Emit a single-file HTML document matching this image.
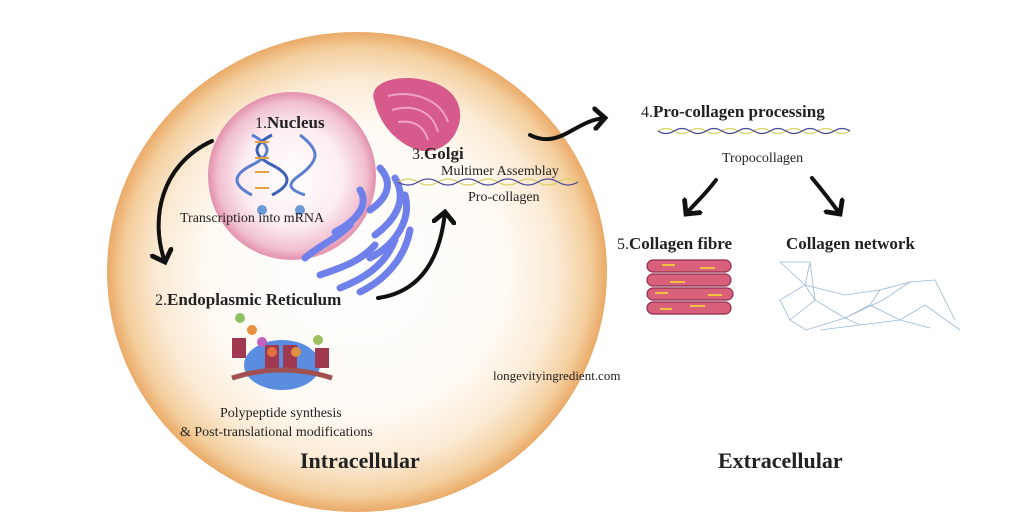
<!DOCTYPE html>
<html><head><meta charset="utf-8"><style>
body{margin:0;background:#fff;width:1024px;height:520px;overflow:hidden}
svg text{font-family:"Liberation Serif",serif;fill:#222}
</style></head><body>
<svg width="1024" height="520" viewBox="0 0 1024 520" xmlns="http://www.w3.org/2000/svg">
<defs>
<radialGradient id="cell" cx="0.5" cy="0.5" r="0.5">
<stop offset="0" stop-color="#fff"/>
<stop offset="0.6" stop-color="#fefaf4"/>
<stop offset="0.8" stop-color="#fbead4"/>
<stop offset="0.93" stop-color="#f4cf9e"/>
<stop offset="1" stop-color="#eaaa68"/>
</radialGradient>
<radialGradient id="nuc" cx="0.5" cy="0.5" r="0.5">
<stop offset="0" stop-color="#fff"/>
<stop offset="0.6" stop-color="#fcedf2"/>
<stop offset="0.88" stop-color="#f1bfcf"/>
<stop offset="1" stop-color="#e290ad"/>
</radialGradient>
<marker id="ah" markerWidth="6" markerHeight="6" refX="3" refY="3" orient="auto" markerUnits="strokeWidth">
<path d="M0,0 L3,3 L0,6" fill="none" stroke="#111" stroke-width="1.2"/>
</marker>
</defs>
<ellipse cx="357" cy="272" rx="250" ry="240" fill="url(#cell)"/>
<circle cx="292" cy="176" r="84" fill="url(#nuc)"/>
<g stroke-width="3" fill="none">
<path d="M252,135 C272,145 272,155 252,165 C232,175 232,185 252,195" stroke="#5b7fd0"/>
<path d="M272,135 C252,145 252,155 272,165 C292,175 292,185 272,195" stroke="#3c5fb8"/>
<path d="M300,135 C320,150 320,160 300,175 C285,185 290,190 305,195" stroke="#5b7fd0"/>
</g>
<g stroke="#e7a040" stroke-width="2"><line x1="255" y1="142" x2="269" y2="142"/><line x1="255" y1="158" x2="269" y2="158"/><line x1="255" y1="172" x2="269" y2="172"/><line x1="255" y1="188" x2="269" y2="188"/></g>
<circle cx="262" cy="210" r="5" fill="#6b9ad6"/><circle cx="300" cy="210" r="5" fill="#6b9ad6"/>
<text x="255" y="128" font-size="16">1.<tspan font-weight="bold" font-size="17">Nucleus</tspan></text>
<text x="180" y="222" font-size="14">Transcription into mRNA</text>
<g stroke="#6f80ea" stroke-width="7" stroke-linecap="round" fill="none">
<path d="M380,168 C395,185 385,200 370,210"/>
<path d="M395,178 C408,200 395,220 375,235"/>
<path d="M405,195 C412,220 395,245 370,258"/>
<path d="M360,190 C370,205 355,222 335,232"/>
<path d="M350,225 C335,240 320,245 305,258"/>
<path d="M375,245 C360,262 340,268 320,275"/>
<path d="M395,240 C385,265 365,278 340,288"/>
<path d="M410,230 C405,258 385,280 360,292"/>
</g>
<path d="M374,100 C368,82 400,72 432,82 C458,90 466,112 456,132 C448,148 430,156 412,148 C395,140 380,125 374,100Z" fill="#d75a8c"/>
<g stroke="#f0a3c2" stroke-width="2" fill="none"><path d="M388,96 C410,90 440,98 448,122"/><path d="M392,110 C412,104 432,110 438,132"/><path d="M398,122 C414,120 424,126 428,140"/></g>
<text x="412" y="159" font-size="16">3.<tspan font-weight="bold" font-size="17">Golgi</tspan></text>
<text x="441" y="175" font-size="14">Multimer Assemblay</text>
<g fill="none" stroke-width="1.3">
<path d="M398,182 q10,-6 20,0 t20,0 t20,0 t20,0 t20,0 t20,0 t20,0 t20,0 t20,0" stroke="#d8d060"/>
<path d="M398,182 q10,6 20,0 t20,0 t20,0 t20,0 t20,0 t20,0 t20,0 t20,0 t20,0" stroke="#4a4a9a"/>
</g>
<text x="468" y="201" font-size="14">Pro-collagen</text>
<text x="155" y="305" font-size="16">2.<tspan font-weight="bold" font-size="17">Endoplasmic Reticulum</tspan></text>
<ellipse cx="282" cy="365" rx="38" ry="25" fill="#5a8de0"/>
<rect x="265" y="345" width="14" height="25" fill="#a0384f"/><rect x="283" y="345" width="14" height="25" fill="#a0384f"/>
<rect x="232" y="338" width="14" height="20" fill="#a0384f"/><rect x="315" y="348" width="14" height="20" fill="#a0384f"/>
<path d="M232,378 Q282,362 332,378" stroke="#a05050" stroke-width="5" fill="none"/>
<circle cx="240" cy="318" r="5" fill="#8cc060"/><circle cx="252" cy="330" r="5" fill="#e99040"/><circle cx="262" cy="342" r="5" fill="#c060c0"/><circle cx="272" cy="352" r="5" fill="#e07040"/><circle cx="296" cy="352" r="5" fill="#e09040"/><circle cx="318" cy="340" r="5" fill="#9cc060"/>
<text x="220" y="417" font-size="14">Polypeptide synthesis</text>
<text x="180" y="436" font-size="14">&amp; Post-translational modifications</text>
<text x="300" y="468" font-size="22" font-weight="bold">Intracellular</text>
<text x="493" y="380" font-size="13">longevityingredient.com</text>
<g stroke="#111" stroke-width="4" fill="none" stroke-linecap="round" marker-end="url(#ah)">
<path d="M212,141 C160,165 150,220 165,262"/>
<path d="M378,298 C420,292 440,260 445,212"/>
<path d="M530,135 C560,150 575,120 605,118"/>
<path d="M716,180 C705,195 695,203 686,214"/>
<path d="M812,178 C822,190 832,203 840,214"/>
</g>
<text x="641" y="117" font-size="16">4.<tspan font-weight="bold" font-size="17">Pro-collagen processing</tspan></text>
<g fill="none" stroke-width="1.3">
<path d="M658,131 q8,-5 16,0 t16,0 t16,0 t16,0 t16,0 t16,0 t16,0 t16,0 t16,0 t16,0 t16,0 t16,0" stroke="#d8d060"/>
<path d="M658,131 q8,5 16,0 t16,0 t16,0 t16,0 t16,0 t16,0 t16,0 t16,0 t16,0 t16,0 t16,0 t16,0" stroke="#4a4a9a"/>
</g>
<text x="722" y="162" font-size="14">Tropocollagen</text>
<text x="617" y="249" font-size="16">5.<tspan font-weight="bold" font-size="17">Collagen fibre</tspan></text>
<text x="786" y="249" font-size="17" font-weight="bold">Collagen network</text>
<g fill="#d9607a" stroke="#8e2c50" stroke-width="1.2">
<rect x="647" y="260" width="84" height="12" rx="6"/><rect x="647" y="274" width="84" height="12" rx="6"/><rect x="647" y="288" width="86" height="12" rx="6"/><rect x="647" y="302" width="84" height="12" rx="6"/>
</g>
<g stroke="#f0c040" stroke-width="2"><line x1="662" y1="265" x2="675" y2="265"/><line x1="700" y1="268" x2="715" y2="268"/><line x1="670" y1="282" x2="685" y2="282"/><line x1="655" y1="293" x2="668" y2="293"/><line x1="708" y1="295" x2="722" y2="295"/><line x1="660" y1="309" x2="672" y2="309"/><line x1="690" y1="306" x2="705" y2="306"/></g>
<g stroke="#9ab8d8" stroke-width="0.8" fill="none">
<path d="M780,262 L810,262 L805,285 L780,300 L790,320 L806,330 L845,318 L870,305 L880,290 L910,282 L935,280 L955,320"/>
<path d="M810,262 L815,300 L845,318 L860,325 L900,320 L925,305 L960,330"/>
<path d="M780,262 L805,285 L815,300 L790,320 M805,285 L845,295 L880,290 M870,305 L900,320 L930,328 M820,330 L860,325 M845,318 L883,300 L910,282"/>
</g>
<text x="718" y="468" font-size="22" font-weight="bold">Extracellular</text>
</svg>
</body></html>
